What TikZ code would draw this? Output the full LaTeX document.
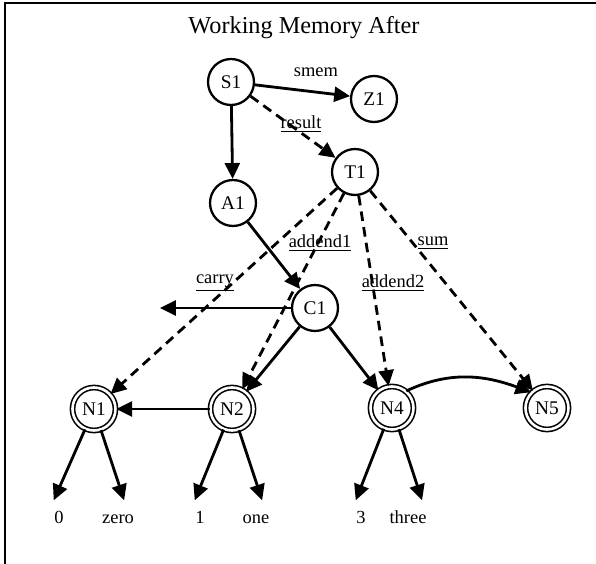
\documentclass[tikz,border=0pt]{standalone}
\usepackage{fontspec}
\setmainfont{Liberation Serif}
\usetikzlibrary{arrows.meta,positioning}

\tikzset{
  wme/.style={circle, draw, line width=1.3pt, minimum size=0.92cm, inner sep=0pt,
    font=\fontsize{11}{13}\selectfont},
  numwme/.style={circle, draw, line width=0.9pt, double, double distance=1.5pt,
    minimum size=0.86cm, inner sep=0pt, font=\fontsize{11}{13}\selectfont},
  leaf/.style={inner sep=0pt, outer sep=6pt, text height=7pt, text depth=0pt,
    font=\fontsize{10.5}{12}\selectfont},
  lbl/.style={font=\fontsize{10.5}{12}\selectfont},
  link/.style={-{Triangle[length=9pt,width=8.5pt]}, line width=1.6pt},
  attr/.style={link, dash pattern=on 5.5pt off 3.5pt},
}

\begin{document}
\begin{tikzpicture}[x=0.02cm, y=-0.02cm]
  \useasboundingbox (0,0) rectangle (596,564);
  % frame and title
  \draw[line width=1.2pt] (596,3) -- (5,3) -- (5,564);
  \node[font=\fontsize{13.8}{16}\selectfont] (title) at (304,28) {Working Memory After};

  % identifiers
  \node[wme] (S1) at (231,82) {S1};
  \node[wme] (Z1) at (374,99) {Z1};
  \node[wme] (T1) at (355,172) {T1};
  \node[wme] (A1) at (233,203) {A1};
  \node[wme] (C1) at (315,308) {C1};
  \coordinate (carryEnd) at (160,308);

  % numbers
  \node[numwme] (N1) at (94,409) {N1};
  \node[numwme] (N2) at (232,409) {N2};
  \node[numwme] (N4) at (392,408) {N4};
  \node[numwme] (N5) at (547,408) {N5};

  % values
  \node[leaf] (v0) at (59,517) {0};
  \node[leaf] (vzero) at (118,517) {zero};
  \node[leaf] (v1) at (200,517) {1};
  \node[leaf] (vone) at (256,517) {one};
  \node[leaf] (v3) at (361,517) {3};
  \node[leaf] (vthree) at (408,517) {three};

  % solid links
  \draw[link] (S1) -- (Z1);
  \draw[link] (S1) -- (A1);
  \draw[link] (A1) -- (C1);
  \draw[link] (C1) -- (carryEnd);
  \draw[link] (C1) -- (N2);
  \draw[link] (C1) -- (N4);
  \draw[link] (N2) -- (N1);
  \draw[link] (N4.50) to[out=25,in=160] (N5.135);

  % dashed attributes
  \draw[attr] (S1) -- (T1);
  \draw[attr] (T1) -- (N1);
  \draw[attr] (T1) -- (N2);
  \draw[attr] (T1) -- (N4);
  \draw[attr] (T1) -- (N5);

  % leaves
  \draw[link] (N1) -- ([xshift=-3pt]v0.north);
  \draw[link] (N1) -- ([xshift=3.5pt]vzero.north);
  \draw[link] (N2) -- ([xshift=-3pt]v1.north);
  \draw[link] (N2) -- ([xshift=3.5pt]vone.north);
  \draw[link] (N4) -- ([xshift=-3pt]v3.north);
  \draw[link] (N4) -- ([xshift=8pt]vthree.north);

  % edge labels
  \node[lbl] (lsmem) at (316,72) {smem};
  \node[lbl] (lresult) at (301,124) {\underline{result}};
  \node[lbl] (laddA) at (320,243) {\underline{addend1}};
  \node[lbl] (laddB) at (393,283) {\underline{addend2}};
  \node[lbl] (lsum) at (433,243) {\underline{sum}};
  \node[lbl] (lcarry) at (215,283) {\underline{carry}};
\end{tikzpicture}
\end{document}
